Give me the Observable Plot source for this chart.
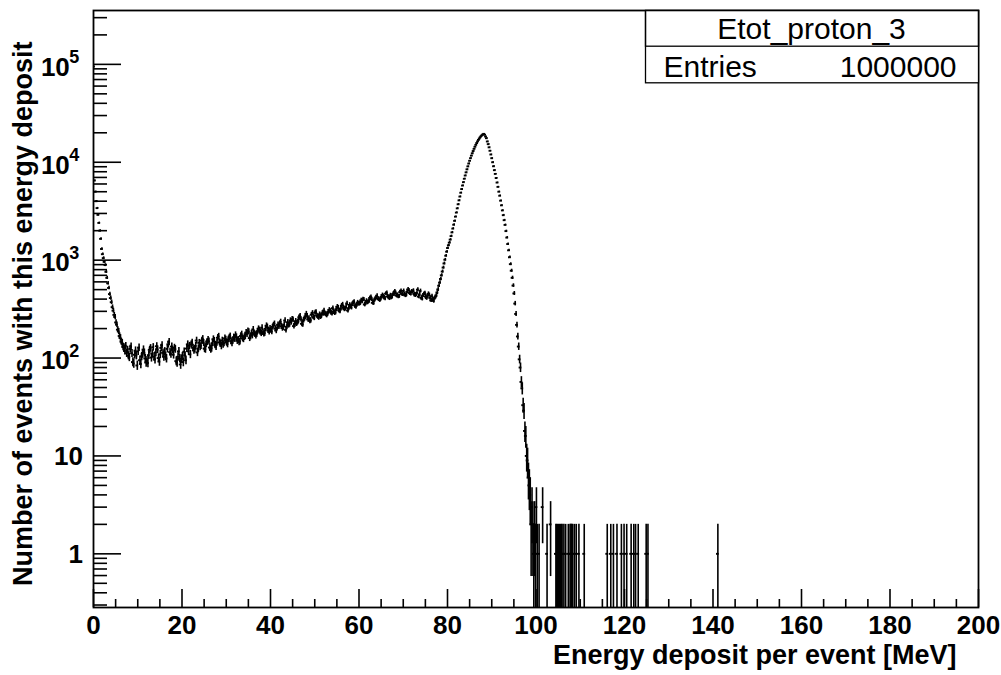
<!DOCTYPE html>
<html>
<head>
<meta charset="utf-8">
<script src="https://cdn.jsdelivr.net/npm/d3@7"></script>
<script src="https://cdn.jsdelivr.net/npm/@observablehq/plot@0.6"></script>
<style>
  html, body { margin: 0; padding: 0; background: #fff; }
  #chart svg { display: block; }
</style>
</head>
<body>
<div id="chart"></div>
<script>
// Histogram of total energy deposited per proton event, 0.2 MeV bins starting at 0 MeV.
const binWidth = 0.2;
const counts = [
  // 0 - 8 MeV
  95000, 6500, 5000, 4000, 3400, 2900, 2400, 2000, 1650, 1300,
  1150, 1050, 960, 890, 760, 660, 580, 520, 450, 410,
  372, 331, 305, 276, 262, 231, 219, 195, 187, 168,
  161, 147, 143, 130, 129, 118, 133, 112, 121, 106,
  // 8 - 20 MeV
  102, 124, 131, 112, 91, 88, 108, 119, 106, 84,
  117, 128, 95, 87, 104, 110, 122, 113, 99, 90,
  94, 89, 107, 121, 126, 101, 111, 129, 103, 97,
  114, 132, 122, 100, 92, 109, 127, 135, 113, 103,
  117, 104, 99, 124, 138, 146, 115, 110, 131, 121,
  108, 127, 123, 93, 90, 103, 117, 99, 86, 98,
  // 20 - 40 MeV
  104, 91, 116, 106, 95, 125, 138, 117, 133, 109,
  138, 144, 127, 120, 124, 133, 151, 114, 125, 143,
  130, 134, 151, 157, 143, 125, 123, 139, 146, 154,
  148, 128, 123, 126, 142, 156, 150, 136, 131, 144,
  161, 166, 145, 141, 133, 151, 138, 142, 159, 155,
  144, 139, 155, 162, 167, 149, 142, 151, 163, 157,
  172, 164, 150, 154, 146, 148, 168, 175, 159, 156,
  164, 167, 182, 175, 189, 186, 160, 166, 179, 170,
  196, 180, 175, 170, 176, 188, 199, 193, 185, 179,
  204, 184, 177, 180, 199, 214, 208, 192, 186, 201,
  // 40 - 60 MeV
  193, 187, 208, 217, 224, 200, 191, 203, 219, 210,
  225, 234, 211, 202, 206, 219, 242, 194, 209, 232,
  217, 221, 242, 232, 250, 247, 212, 220, 238, 225,
  232, 238, 261, 269, 249, 224, 221, 244, 254, 264,
  283, 269, 248, 254, 240, 243, 277, 288, 262, 257,
  290, 295, 271, 266, 259, 279, 264, 269, 287, 284,
  306, 286, 281, 274, 282, 297, 310, 302, 293, 285,
  323, 297, 289, 293, 316, 334, 327, 307, 300, 318,
  342, 352, 326, 315, 320, 334, 361, 306, 323, 349,
  336, 328, 355, 367, 375, 345, 333, 348, 369, 358,
  // 60 - 80 MeV
  359, 364, 389, 377, 399, 395, 352, 362, 384, 369,
  376, 383, 411, 420, 397, 367, 364, 390, 403, 415,
  434, 406, 399, 390, 401, 421, 440, 429, 416, 405,
  455, 463, 426, 418, 407, 438, 414, 422, 451, 446,
  480, 462, 434, 442, 424, 428, 472, 486, 452, 446,
  485, 447, 435, 441, 474, 502, 491, 462, 451, 479,
  473, 488, 451, 436, 443, 463, 500, 424, 447, 484,
  413, 403, 436, 451, 461, 424, 409, 428, 453, 440,
  411, 388, 428, 398, 383, 409, 420, 436, 467, 502,
  548, 590, 642, 700, 765, 840, 925, 1010, 1110, 1220,
  // 80 - 90 MeV: full-energy peak
  1330, 1420, 1510, 1620, 1760, 1920, 2100, 2300, 2520, 2780,
  3060, 3380, 3720, 4080, 4460, 4880, 5320, 5780, 6260, 6780,
  7320, 7880, 8460, 9070, 9700, 10350, 11000, 11680, 12350, 13020,
  13700, 14380, 15050, 15700, 16330, 16930, 17500, 18020, 18500, 18900,
  19250, 19500, 19100, 18300, 17600, 16300, 15300, 14200, 13100, 12000,
  // 90 - 101 MeV
  11000, 10000, 9100, 8300, 7600, 6900, 6200, 5600, 5000, 4550,
  4050, 3630, 3220, 2880, 2560, 2290, 1980, 1700, 1460, 1260,
  1070, 910, 780, 660, 550, 457, 360, 282, 218, 166,
  131, 97, 80, 57, 49, 33, 29, 18, 16, 10,
  9, 6, 5, 4, 2, 3, 2, 1, 2, 1,
  3, 1, 0, 1, 0
];

// Isolated entries beyond the peak (bin centre in MeV, count)
const tailEnergy = [101.5, 102.5, 103.3, 104.5, 104.7, 104.9, 105.1, 105.3, 105.5, 105.7,
  105.9, 106.3, 106.7, 107.3, 107.7, 107.9, 108.1, 108.3, 108.7, 109.1,
  109.7, 110.9, 116.1, 116.9, 117.5, 118.3, 119.3, 119.9, 120.5, 121.5,
  122.1, 122.5, 123.1, 124.9, 125.3, 141.1];
const tailCounts = [3, 1, 2, 1, 1, 1, 1, 1, 1, 1,
  1, 1, 1, 1, 1, 1, 1, 1, 1, 1,
  1, 1, 1, 1, 1, 1, 1, 1, 1, 1,
  1, 1, 1, 1, 1, 1];

// Axis ticks and labels
const xMajorTicks = [0, 20, 40, 60, 80, 100, 120, 140, 160, 180, 200];
const xTickLabels = ["0", "20", "40", "60", "80", "100", "120", "140", "160", "180", "200"];
const yPlainTicks = [1, 10];
const yPlainLabels = ["1", "10"];
const yPowerTicks = [1e2, 1e3, 1e4, 1e5];
const yPowerBase = "10";
const yPowerExponents = ["2", "3", "4", "5"];

// Texts
const statsTitle = "Etot_proton_3";
const statsEntriesLabel = "Entries";
const statsEntriesValue = "1000000";
const xTitle = "Energy deposit per event [MeV]";
const yTitle = "Number of events with this energy deposit";

// ---------------------------------------------------------------------------
const width = 1001, height = 675;
const marginLeft = 93, marginRight = 23, marginTop = 10, marginBottom = 68;
const frameW = width - marginLeft - marginRight;
const frameH = height - marginTop - marginBottom;
const yMin = 0.283, yMax = 3.55e5;

const bins = [];
counts.forEach((n, i) => {
  if (n > 0) bins.push({lo: i * binWidth, hi: (i + 1) * binWidth, n});
});
tailEnergy.forEach((e, i) => {
  bins.push({lo: e - binWidth / 2, hi: e + binWidth / 2, n: tailCounts[i]});
});

const xMinorTicks = d3.range(5, 200, 5).filter(v => v % 20 !== 0);
const yMajorTicks = [1, 10, 1e2, 1e3, 1e4, 1e5];
const yMinorTicks = [];
for (let e = -1; e <= 5; e++) {
  for (let m = 2; m <= 9; m++) {
    const v = m * Math.pow(10, e);
    if (v > yMin && v < yMax) yMinorTicks.push(v);
  }
}

const font = "'Liberation Sans', Arial, Helvetica, sans-serif";
const ink = "#000";

const chart = Plot.plot({
  width, height, marginLeft, marginRight, marginTop, marginBottom,
  style: {fontFamily: font, background: "#fff", color: ink, overflow: "visible"},
  x: {domain: [0, 200], axis: null},
  y: {type: "log", domain: [yMin, yMax], axis: null},
  marks: [
    // error bars (sqrt N) and bin-width bars
    Plot.ruleX(bins, {
      x: d => (d.lo + d.hi) / 2,
      y1: d => Math.max(d.n - Math.sqrt(d.n), yMin),
      y2: d => d.n + Math.sqrt(d.n),
      stroke: ink, strokeWidth: 1.6, clip: true
    }),
    Plot.ruleY(bins, {
      y: "n", x1: "lo", x2: "hi",
      stroke: ink, strokeWidth: 1.9, strokeLinecap: "square", clip: true
    }),
    // inward ticks
    Plot.ruleX(xMajorTicks, {x: d => d, insetTop: frameH - 18, stroke: ink, strokeWidth: 1.6}),
    Plot.ruleX(xMinorTicks, {x: d => d, insetTop: frameH - 8, stroke: ink, strokeWidth: 1.6}),
    Plot.ruleY(yMajorTicks, {y: d => d, insetRight: frameW - 28, stroke: ink, strokeWidth: 1.6}),
    Plot.ruleY(yMinorTicks, {y: d => d, insetRight: frameW - 14, stroke: ink, strokeWidth: 1.6}),
    // frame
    Plot.frame({stroke: ink, strokeWidth: 1.8}),
    // statistics box
    Plot.frame({insetLeft: 552, insetBottom: 524.7, fill: "#fff", stroke: ink, strokeWidth: 1.3}),
    Plot.frame({insetLeft: 552, insetBottom: 561.3, stroke: ink, strokeWidth: 1.3}),
    Plot.text([statsTitle], {frameAnchor: "top-right", textAnchor: "middle", lineAnchor: "middle",
      dx: -167, dy: 19, fontSize: 30, fill: ink}),
    Plot.text([statsEntriesLabel], {frameAnchor: "top-right", textAnchor: "start", lineAnchor: "middle",
      dx: -315, dy: 57, fontSize: 30, fill: ink}),
    Plot.text([statsEntriesValue], {frameAnchor: "top-right", textAnchor: "end", lineAnchor: "middle",
      dx: -22, dy: 57, fontSize: 30, fill: ink}),
    // x tick labels
    Plot.text(xMajorTicks, {x: d => d, text: (d, i) => xTickLabels[i], frameAnchor: "bottom",
      lineAnchor: "top", dy: 8.5, fontSize: 26, fontWeight: "bold", fill: ink}),
    // y tick labels
    Plot.text(yPlainTicks, {y: d => d, text: (d, i) => yPlainLabels[i], frameAnchor: "left",
      textAnchor: "end", lineAnchor: "middle", dx: -10.5, dy: 1, fontSize: 26, fontWeight: "bold", fill: ink}),
    Plot.text(yPowerTicks, {y: d => d, text: () => yPowerBase, frameAnchor: "left",
      textAnchor: "end", lineAnchor: "middle", dx: -23.7, dy: 3, fontSize: 26, fontWeight: "bold", fill: ink}),
    Plot.text(yPowerTicks, {y: d => d, text: (d, i) => yPowerExponents[i], frameAnchor: "left",
      textAnchor: "start", lineAnchor: "middle", dx: -24.2, dy: -7, fontSize: 18, fontWeight: "bold", fill: ink}),
    // axis titles
    Plot.text([xTitle], {frameAnchor: "bottom-right", textAnchor: "end", lineAnchor: "top",
      dx: -22, dy: 37.5, fontSize: 27, fontWeight: "bold", fill: ink}),
    Plot.text([yTitle], {frameAnchor: "top-left", rotate: -90, textAnchor: "end", lineAnchor: "top",
      dx: -80.5, dy: 31, fontSize: 27, fontWeight: "bold", fill: ink})
  ]
});

document.getElementById("chart").appendChild(chart);
</script>
</body>
</html>
